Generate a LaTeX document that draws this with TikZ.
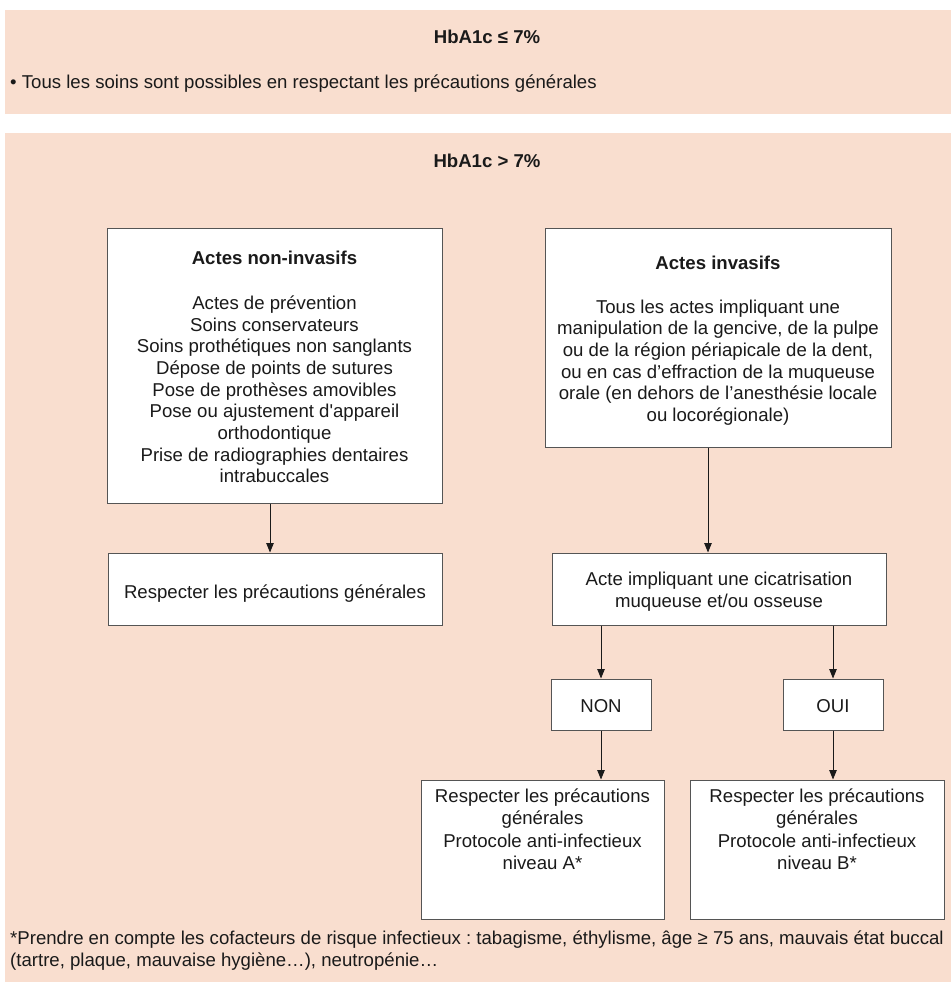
\documentclass[tikz,border=0pt]{standalone}
\usepackage{fontspec}
\setmainfont{Liberation Sans}
\usetikzlibrary{arrows.meta}
\definecolor{peach}{RGB}{249,222,207}
\definecolor{ink}{RGB}{26,26,26}
\definecolor{edgegray}{RGB}{85,85,85}
\newcommand{\bodyfs}{\fontsize{18.6}{21.7}\selectfont\frenchspacing}
\newcommand{\mystrut}{\rule[-3.2pt]{0pt}{21.7pt}}
\begin{document}
\begin{tikzpicture}[x=1pt,y=-1pt,
  txt/.style={font=\bodyfs, text=ink, inner sep=0pt,
    execute at begin node=\mystrut, execute at end node=\mystrut},
  box/.style={txt, draw=edgegray, line width=1pt, fill=white, align=center},
  ttl/.style={font=\bodyfs\bfseries, text=ink, inner sep=0pt, anchor=base},
  arr/.style={draw=ink, line width=0.9pt, -{Triangle[length=9.5pt,width=7.5pt]}}]

\useasboundingbox (0,0) rectangle (951,982);
\fill[peach] (5,10) rectangle (951,114);
\fill[peach] (5,133) rectangle (951,982);

% top panel
\node[ttl] (t1) at (487,43.5) {HbA1c ≤ 7\%};
\node[font=\bodyfs, text=ink, inner sep=0pt, anchor=base west] (b1) at (10,88.5)
  {• Tous les soins sont possibles en respectant les précautions générales};

% second panel
\node[ttl] (t2) at (487,167) {HbA1c > 7\%};

\node[box, minimum width=335pt, minimum height=275pt] (noninv) at (274.5,365.5) {};
\node[txt, align=center] (noninvtxt) at ([yshift=-3pt]noninv.center)
  {\textbf{Actes non-invasifs}\\[23.3pt]Actes de prévention\\Soins conservateurs\\Soins prothétiques non sanglants\\Dépose de points de sutures\\Pose de prothèses amovibles\\Pose ou ajustement d\textquotesingle appareil\\orthodontique\\Prise de radiographies dentaires\\intrabuccales};

\node[box, minimum width=346pt, minimum height=219pt] (inv) at (718,337.5) {};
\node[txt, align=center] (invtxt) at ([yshift=-3pt]inv.center)
  {\textbf{Actes invasifs}\\[22.3pt]Tous les actes impliquant une\\manipulation de la gencive, de la pulpe\\ou de la région périapicale de la dent,\\ou en cas d’effraction de la muqueuse\\orale (en dehors de l’anesthésie locale\\ou locorégionale)};

\node[box, minimum width=334pt, minimum height=72pt] (resp) at (275,589) {};
\node[txt] (resptxt) at ([yshift=-2pt]resp.center) {Respecter les précautions générales};

\node[box, minimum width=334pt, minimum height=72pt] (cicat) at (719,589) {};
\node[txt, align=center] (cicattxt) at ([yshift=-3pt]cicat.center)
  {Acte impliquant une cicatrisation\\muqueuse et/ou osseuse};

\node[box, minimum width=100pt, minimum height=51pt] (non) at (601,704.5) {NON};
\node[box, minimum width=100pt, minimum height=51pt] (oui) at (833,704.5) {OUI};

\node[box, minimum width=243pt, minimum height=139pt] (boxA) at (542.5,849.5) {};
\node[box, minimum width=254pt, minimum height=139pt] (boxB) at (817,849.5) {};
\node[txt, font=\fontsize{18.6}{22.3}\selectfont, align=center, anchor=north] (protA) at ([yshift=-9pt]boxA.north)
  {Respecter les précautions\\générales\\Protocole anti-infectieux\\niveau A*};
\node[txt, font=\fontsize{18.6}{22.3}\selectfont, align=center, anchor=north] (protB) at ([yshift=-9pt]boxB.north)
  {Respecter les précautions\\générales\\Protocole anti-infectieux\\niveau B*};

% connectors
\draw[arr] ([xshift=-4.5pt]noninv.south) -- ([xshift=-5pt]resp.north);
\draw[arr] ([xshift=-10pt]inv.south) -- ([xshift=-11pt]cicat.north);
\draw[arr] (cicat.south -| non.north) -- (non.north);
\draw[arr] (cicat.south -| oui.north) -- (oui.north);
\draw[arr] (non.south) -- (non.south |- boxA.north);
\draw[arr] (oui.south) -- (oui.south |- boxB.north);

% footnote
\node[txt, align=left, anchor=north west] (foot) at (10,931)
  {*Prendre en compte les cofacteurs de risque infectieux : tabagisme, éthylisme, âge ≥ 75 ans, mauvais état buccal\\(tartre, plaque, mauvaise hygiène…), neutropénie…};
\end{tikzpicture}
\end{document}
